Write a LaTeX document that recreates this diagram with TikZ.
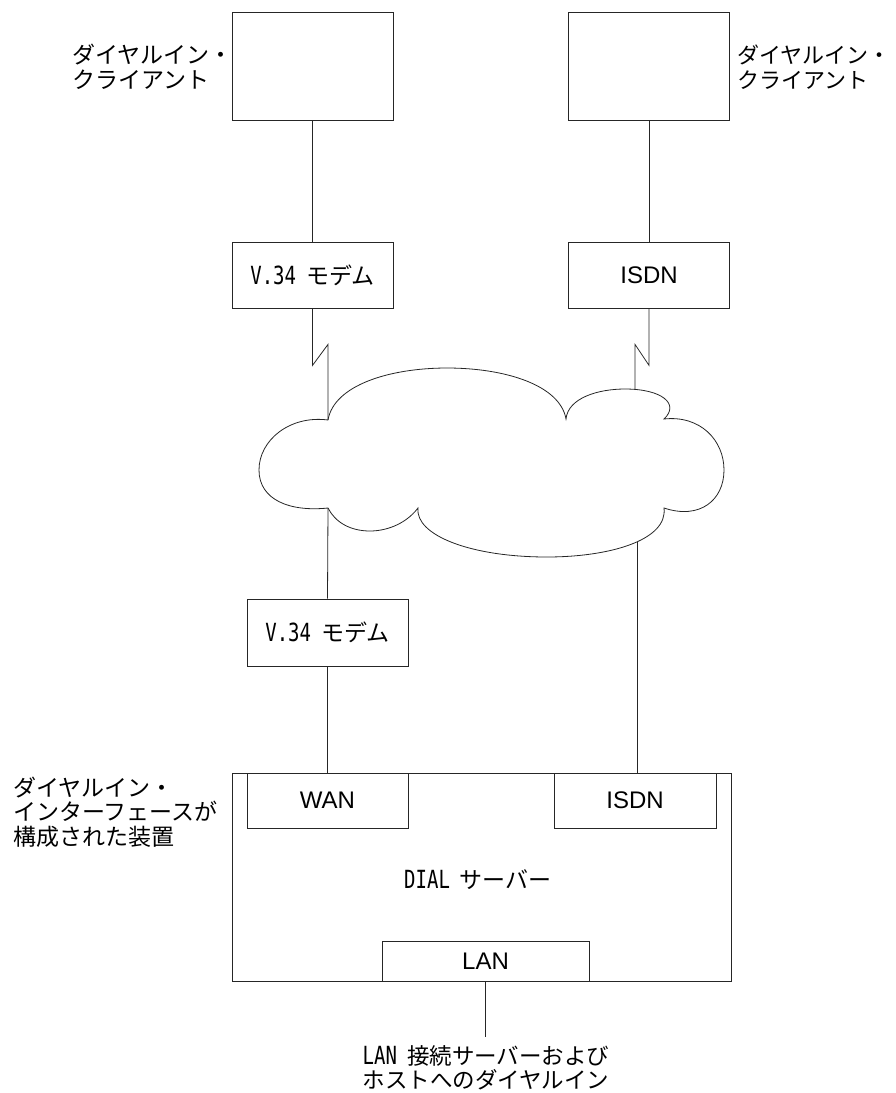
\documentclass[tikz,border=0pt]{standalone}
\usepackage{graphicx}
\usepackage{fontspec}
\setmainfont{Liberation Sans}
\newfontfamily\jp{Noto Sans CJK JP}
\newfontfamily\monof{DejaVu Sans Mono}
\newcommand{\hw}[1]{\scalebox{0.76}[1]{\monof\fontsize{25}{27}\selectfont #1}}
\tikzset{
  box/.style={draw=black!85, line width=0.8pt, minimum width=161pt, inner sep=0pt, font=\fontsize{24}{27}\selectfont},
  wire/.style={draw=black!85, line width=0.8pt},
  lbl/.style={inner sep=0pt, align=left, anchor=west, font=\jp\fontsize{23}{24.5}\selectfont},
}
\begin{document}
\begin{tikzpicture}[x=1pt,y=-1pt]
\useasboundingbox (0,0) rectangle (895,1093);
% clients
\node[box, minimum height=108pt] (c1) at (312.5,66) {};
\node[box, minimum height=108pt] (c2) at (649,66) {};
\node[lbl] (l1) at (72,67) {ダイヤルイン・\\クライアント};
\node[lbl, font=\jp\fontsize{22}{24.5}\selectfont] (l2) at (737,67) {ダイヤルイン・\\クライアント};
% modems
\node[box, minimum height=66pt] (m1) at (312.5,275) {\hw{V.34}\hspace{10pt}{\jp\fontsize{23}{27}\selectfont モデム}};
\node[box, minimum height=66pt] (i1) at (649,275) {ISDN};
\draw[wire] (c1.south) -- (m1.north);
\draw[wire] (c2.south) -- (i1.north);
% cloud
\coordinate (ca) at (328,420);
\coordinate (cr) at (635,389);
\coordinate (cf) at (328,508);
\coordinate (cb) at (637,542);
\draw[wire] (ca) .. controls (334,385) and (390,368) .. (447,368)
  .. controls (505,368) and (560,385) .. (566,419)
  .. controls (568,398) and (598,389) .. (625,389)
  .. controls (662,389) and (680,404) .. (664,419)
  .. controls (700,415) and (724,440) .. (724,470)
  .. controls (724,500) and (700,520) .. (664,508)
  .. controls (668,540) and (610,557) .. (547,557)
  .. controls (470,557) and (415,535) .. (418,508)
  .. controls (405,525) and (385,531) .. (370,531)
  .. controls (350,531) and (335,522) .. (cf)
  .. controls (290,512) and (259,500) .. (259,470)
  .. controls (259,440) and (290,415) .. (ca);
% zigzag links
\draw[wire] (m1.south) -- ++(0,57) -- ++(15.5,-21) -- (ca);
\draw[wire] (i1.south) -- ++(0,57) -- ++(-14,-21) -- (cr);
% lower modem and server
\node[box, minimum height=67pt] (m2) at (327.5,632.5) {\hw{V.34}\hspace{10pt}{\jp\fontsize{23}{27}\selectfont モデム}};
\node[draw=black!85, line width=0.8pt, minimum width=499pt, minimum height=208pt, inner sep=0pt] (srv) at (481.5,877) {};
\node[box, minimum height=55pt] (wan) at (327.5,800.5) {WAN};
\node[box, minimum width=162pt, minimum height=55pt] (isdn2) at (635,800.5) {ISDN};
\node[box, minimum width=207pt, minimum height=40pt] (lan) at (485.5,961) {LAN};
\node[inner sep=0pt] (dial) at (478,880) {\hw{DIAL}\hspace{10pt}{\jp\fontsize{23}{27}\selectfont サーバー}};
\node[lbl] (l3) at (13,812) {ダイヤルイン・\\インターフェースが\\構成された装置};
\draw[wire] (cf) -- (m2.north);
\draw[wire] (m2.south) -- (wan.north);
\draw[wire] (cb) -- (cb |- isdn2.north);
\coordinate (lanend) at (485.5,1037);
\draw[wire] (lan.south) -- (lanend);
\node[inner sep=0pt, align=center, font=\jp\fontsize{22.5}{24.5}\selectfont] (bt) at (486,1068) {\hw{LAN}\hspace{10pt}接続サーバーおよび\\ホストへのダイヤルイン};
\end{tikzpicture}
\end{document}
